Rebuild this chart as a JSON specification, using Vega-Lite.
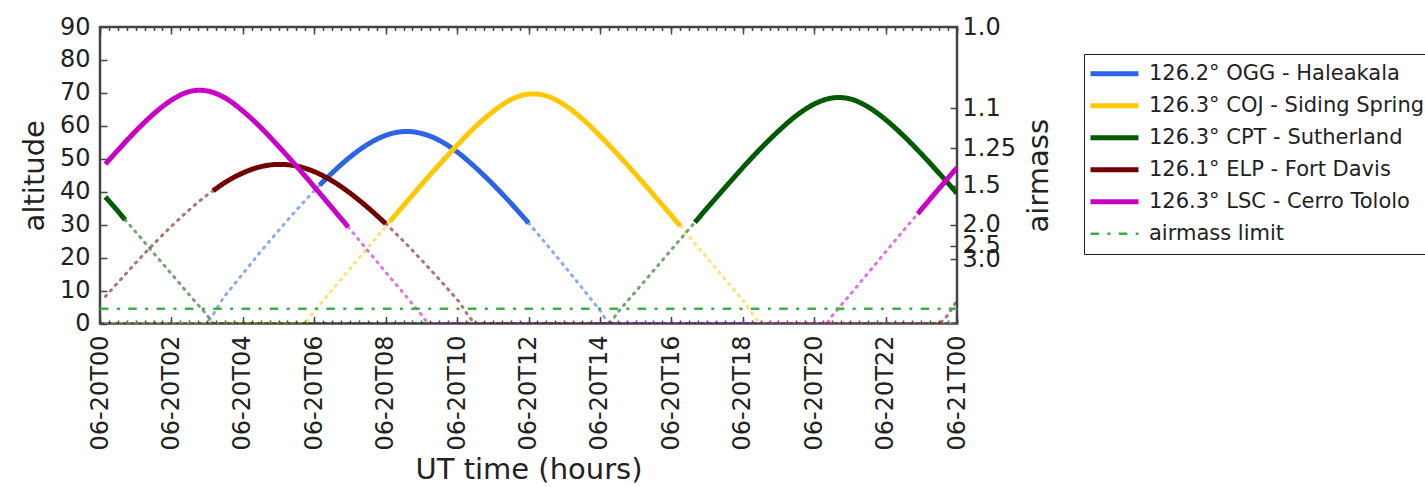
{
  "$schema": "https://vega.github.io/schema/vega-lite/v6.json",
  "width": 857,
  "height": 296.5,
  "autosize": {"type": "none"},
  "padding": {"left": 100, "top": 27, "right": 468, "bottom": 163.5},
  "background": "white",
  "config": {
    "font": "DejaVu Sans",
    "view": {"stroke": "#444", "strokeWidth": 2.5},
    "axis": {"grid": false, "domain": false, "labelFontSize": 24, "titleFontSize": 29, "titleFontWeight": "normal", "labelColor": "#222", "titleColor": "#222", "tickColor": "#444", "tickWidth": 1.5, "labelOverlap": false, "labelFlush": false, "labelBound": false},
    "legend": {"labelFontSize": 21, "labelColor": "#222", "labelFont": "DejaVu Sans"}
  },
  "datasets": {
    "curves": [
      {"site":"OGG","seg":"OGG1","obs":false,"h":0.15,"alt":0},
      {"site":"OGG","seg":"OGG1","obs":false,"h":2.89,"alt":0},
      {"site":"OGG","seg":"OGG1","obs":false,"h":3.5,"alt":8.4},
      {"site":"OGG","seg":"OGG1","obs":false,"h":4,"alt":15.1},
      {"site":"OGG","seg":"OGG1","obs":false,"h":4.5,"alt":21.8},
      {"site":"OGG","seg":"OGG1","obs":false,"h":5,"alt":28.2},
      {"site":"OGG","seg":"OGG1","obs":false,"h":5.5,"alt":34.4},
      {"site":"OGG","seg":"OGG1","obs":false,"h":6,"alt":40.3},
      {"site":"OGG","seg":"OGG1","obs":false,"h":6.15,"alt":42},
      {"site":"OGG","seg":"OGG2","obs":true,"h":6.15,"alt":42},
      {"site":"OGG","seg":"OGG2","obs":true,"h":6.5,"alt":45.7},
      {"site":"OGG","seg":"OGG2","obs":true,"h":7,"alt":50.5},
      {"site":"OGG","seg":"OGG2","obs":true,"h":7.5,"alt":54.4},
      {"site":"OGG","seg":"OGG2","obs":true,"h":8,"alt":57.1},
      {"site":"OGG","seg":"OGG2","obs":true,"h":8.3,"alt":58},
      {"site":"OGG","seg":"OGG2","obs":true,"h":8.59,"alt":58.3},
      {"site":"OGG","seg":"OGG2","obs":true,"h":9,"alt":57.7},
      {"site":"OGG","seg":"OGG2","obs":true,"h":9.5,"alt":55.6},
      {"site":"OGG","seg":"OGG2","obs":true,"h":10,"alt":52.1},
      {"site":"OGG","seg":"OGG2","obs":true,"h":10.5,"alt":47.5},
      {"site":"OGG","seg":"OGG2","obs":true,"h":11,"alt":42.3},
      {"site":"OGG","seg":"OGG2","obs":true,"h":11.5,"alt":36.6},
      {"site":"OGG","seg":"OGG2","obs":true,"h":12,"alt":30.5},
      {"site":"OGG","seg":"OGG3","obs":false,"h":12,"alt":30.5},
      {"site":"OGG","seg":"OGG3","obs":false,"h":12.5,"alt":24.1},
      {"site":"OGG","seg":"OGG3","obs":false,"h":13,"alt":17.5},
      {"site":"OGG","seg":"OGG3","obs":false,"h":13.5,"alt":10.8},
      {"site":"OGG","seg":"OGG3","obs":false,"h":14,"alt":4},
      {"site":"OGG","seg":"OGG3","obs":false,"h":14.29,"alt":0},
      {"site":"OGG","seg":"OGG3","obs":false,"h":24,"alt":0},

      {"site":"COJ","seg":"COJ1","obs":false,"h":0.15,"alt":0},
      {"site":"COJ","seg":"COJ1","obs":false,"h":5.7,"alt":0},
      {"site":"COJ","seg":"COJ1","obs":false,"h":6,"alt":3.8},
      {"site":"COJ","seg":"COJ1","obs":false,"h":6.5,"alt":10.2},
      {"site":"COJ","seg":"COJ1","obs":false,"h":7,"alt":16.6},
      {"site":"COJ","seg":"COJ1","obs":false,"h":7.5,"alt":23},
      {"site":"COJ","seg":"COJ1","obs":false,"h":8,"alt":29.4},
      {"site":"COJ","seg":"COJ1","obs":false,"h":8.12,"alt":31},
      {"site":"COJ","seg":"COJ2","obs":true,"h":8.12,"alt":31},
      {"site":"COJ","seg":"COJ2","obs":true,"h":8.5,"alt":35.8},
      {"site":"COJ","seg":"COJ2","obs":true,"h":9,"alt":42.1},
      {"site":"COJ","seg":"COJ2","obs":true,"h":9.5,"alt":48.2},
      {"site":"COJ","seg":"COJ2","obs":true,"h":10,"alt":54.1},
      {"site":"COJ","seg":"COJ2","obs":true,"h":10.5,"alt":59.6},
      {"site":"COJ","seg":"COJ2","obs":true,"h":11,"alt":64.3},
      {"site":"COJ","seg":"COJ2","obs":true,"h":11.5,"alt":67.9},
      {"site":"COJ","seg":"COJ2","obs":true,"h":11.8,"alt":69.2},
      {"site":"COJ","seg":"COJ2","obs":true,"h":12.13,"alt":69.7},
      {"site":"COJ","seg":"COJ2","obs":true,"h":12.5,"alt":69.1},
      {"site":"COJ","seg":"COJ2","obs":true,"h":13,"alt":66.4},
      {"site":"COJ","seg":"COJ2","obs":true,"h":13.5,"alt":62.2},
      {"site":"COJ","seg":"COJ2","obs":true,"h":14,"alt":57},
      {"site":"COJ","seg":"COJ2","obs":true,"h":14.5,"alt":51.3},
      {"site":"COJ","seg":"COJ2","obs":true,"h":15,"alt":45.3},
      {"site":"COJ","seg":"COJ2","obs":true,"h":15.5,"alt":39.1},
      {"site":"COJ","seg":"COJ2","obs":true,"h":16,"alt":32.8},
      {"site":"COJ","seg":"COJ2","obs":true,"h":16.25,"alt":29.6},
      {"site":"COJ","seg":"COJ3","obs":false,"h":16.25,"alt":29.6},
      {"site":"COJ","seg":"COJ3","obs":false,"h":16.5,"alt":26.4},
      {"site":"COJ","seg":"COJ3","obs":false,"h":17,"alt":19.9},
      {"site":"COJ","seg":"COJ3","obs":false,"h":17.5,"alt":13.5},
      {"site":"COJ","seg":"COJ3","obs":false,"h":18,"alt":7.1},
      {"site":"COJ","seg":"COJ3","obs":false,"h":18.57,"alt":0},
      {"site":"COJ","seg":"COJ3","obs":false,"h":24,"alt":0},

      {"site":"CPT","seg":"CPT1","obs":true,"h":0.15,"alt":38.4},
      {"site":"CPT","seg":"CPT1","obs":true,"h":0.5,"alt":34.1},
      {"site":"CPT","seg":"CPT1","obs":true,"h":0.7,"alt":31.5},
      {"site":"CPT","seg":"CPT2","obs":false,"h":0.7,"alt":31.5},
      {"site":"CPT","seg":"CPT2","obs":false,"h":1,"alt":27.8},
      {"site":"CPT","seg":"CPT2","obs":false,"h":1.5,"alt":21.4},
      {"site":"CPT","seg":"CPT2","obs":false,"h":2,"alt":15.1},
      {"site":"CPT","seg":"CPT2","obs":false,"h":2.5,"alt":8.7},
      {"site":"CPT","seg":"CPT2","obs":false,"h":3,"alt":2.5},
      {"site":"CPT","seg":"CPT2","obs":false,"h":3.2,"alt":0},
      {"site":"CPT","seg":"CPT2","obs":false,"h":14.23,"alt":0},
      {"site":"CPT","seg":"CPT2","obs":false,"h":14.5,"alt":3.4},
      {"site":"CPT","seg":"CPT2","obs":false,"h":15,"alt":9.7},
      {"site":"CPT","seg":"CPT2","obs":false,"h":15.5,"alt":16},
      {"site":"CPT","seg":"CPT2","obs":false,"h":16,"alt":22.4},
      {"site":"CPT","seg":"CPT2","obs":false,"h":16.5,"alt":28.7},
      {"site":"CPT","seg":"CPT2","obs":false,"h":16.66,"alt":30.7},
      {"site":"CPT","seg":"CPT3","obs":true,"h":16.66,"alt":30.7},
      {"site":"CPT","seg":"CPT3","obs":true,"h":17,"alt":35},
      {"site":"CPT","seg":"CPT3","obs":true,"h":17.5,"alt":41.2},
      {"site":"CPT","seg":"CPT3","obs":true,"h":18,"alt":47.3},
      {"site":"CPT","seg":"CPT3","obs":true,"h":18.5,"alt":53.1},
      {"site":"CPT","seg":"CPT3","obs":true,"h":19,"alt":58.4},
      {"site":"CPT","seg":"CPT3","obs":true,"h":19.5,"alt":63.1},
      {"site":"CPT","seg":"CPT3","obs":true,"h":20,"alt":66.6},
      {"site":"CPT","seg":"CPT3","obs":true,"h":20.35,"alt":68.1},
      {"site":"CPT","seg":"CPT3","obs":true,"h":20.68,"alt":68.6},
      {"site":"CPT","seg":"CPT3","obs":true,"h":21,"alt":68.2},
      {"site":"CPT","seg":"CPT3","obs":true,"h":21.5,"alt":65.8},
      {"site":"CPT","seg":"CPT3","obs":true,"h":22,"alt":61.9},
      {"site":"CPT","seg":"CPT3","obs":true,"h":22.5,"alt":57},
      {"site":"CPT","seg":"CPT3","obs":true,"h":23,"alt":51.5},
      {"site":"CPT","seg":"CPT3","obs":true,"h":23.5,"alt":45.6},
      {"site":"CPT","seg":"CPT3","obs":true,"h":24,"alt":39.5},

      {"site":"ELP","seg":"ELP1","obs":false,"h":0.15,"alt":8.2},
      {"site":"ELP","seg":"ELP1","obs":false,"h":0.5,"alt":12.4},
      {"site":"ELP","seg":"ELP1","obs":false,"h":1,"alt":18.4},
      {"site":"ELP","seg":"ELP1","obs":false,"h":1.5,"alt":24.1},
      {"site":"ELP","seg":"ELP1","obs":false,"h":2,"alt":29.5},
      {"site":"ELP","seg":"ELP1","obs":false,"h":2.5,"alt":34.5},
      {"site":"ELP","seg":"ELP1","obs":false,"h":3,"alt":39},
      {"site":"ELP","seg":"ELP1","obs":false,"h":3.17,"alt":40.3},
      {"site":"ELP","seg":"ELP2","obs":true,"h":3.17,"alt":40.3},
      {"site":"ELP","seg":"ELP2","obs":true,"h":3.5,"alt":42.8},
      {"site":"ELP","seg":"ELP2","obs":true,"h":4,"alt":45.7},
      {"site":"ELP","seg":"ELP2","obs":true,"h":4.5,"alt":47.6},
      {"site":"ELP","seg":"ELP2","obs":true,"h":5.04,"alt":48.3},
      {"site":"ELP","seg":"ELP2","obs":true,"h":5.5,"alt":47.8},
      {"site":"ELP","seg":"ELP2","obs":true,"h":6,"alt":46.1},
      {"site":"ELP","seg":"ELP2","obs":true,"h":6.5,"alt":43.3},
      {"site":"ELP","seg":"ELP2","obs":true,"h":7,"alt":39.6},
      {"site":"ELP","seg":"ELP2","obs":true,"h":7.5,"alt":35.2},
      {"site":"ELP","seg":"ELP2","obs":true,"h":8,"alt":30.3},
      {"site":"ELP","seg":"ELP3","obs":false,"h":8,"alt":30.3},
      {"site":"ELP","seg":"ELP3","obs":false,"h":8.5,"alt":25},
      {"site":"ELP","seg":"ELP3","obs":false,"h":9,"alt":19.3},
      {"site":"ELP","seg":"ELP3","obs":false,"h":9.5,"alt":13.4},
      {"site":"ELP","seg":"ELP3","obs":false,"h":10,"alt":7.3},
      {"site":"ELP","seg":"ELP3","obs":false,"h":10.58,"alt":0},
      {"site":"ELP","seg":"ELP3","obs":false,"h":23.43,"alt":0},
      {"site":"ELP","seg":"ELP3","obs":false,"h":24,"alt":7.1},

      {"site":"LSC","seg":"LSC1","obs":true,"h":0.15,"alt":48.4},
      {"site":"LSC","seg":"LSC1","obs":true,"h":0.5,"alt":52.6},
      {"site":"LSC","seg":"LSC1","obs":true,"h":1,"alt":58.4},
      {"site":"LSC","seg":"LSC1","obs":true,"h":1.5,"alt":63.6},
      {"site":"LSC","seg":"LSC1","obs":true,"h":2,"alt":67.8},
      {"site":"LSC","seg":"LSC1","obs":true,"h":2.5,"alt":70.4},
      {"site":"LSC","seg":"LSC1","obs":true,"h":2.8,"alt":70.8},
      {"site":"LSC","seg":"LSC1","obs":true,"h":3,"alt":70.6},
      {"site":"LSC","seg":"LSC1","obs":true,"h":3.5,"alt":68.5},
      {"site":"LSC","seg":"LSC1","obs":true,"h":4,"alt":64.5},
      {"site":"LSC","seg":"LSC1","obs":true,"h":4.5,"alt":59.5},
      {"site":"LSC","seg":"LSC1","obs":true,"h":5,"alt":53.8},
      {"site":"LSC","seg":"LSC1","obs":true,"h":5.5,"alt":47.8},
      {"site":"LSC","seg":"LSC1","obs":true,"h":6,"alt":41.5},
      {"site":"LSC","seg":"LSC1","obs":true,"h":6.5,"alt":35.1},
      {"site":"LSC","seg":"LSC1","obs":true,"h":6.95,"alt":29.3},
      {"site":"LSC","seg":"LSC2","obs":false,"h":6.95,"alt":29.3},
      {"site":"LSC","seg":"LSC2","obs":false,"h":7.5,"alt":22.1},
      {"site":"LSC","seg":"LSC2","obs":false,"h":8,"alt":15.6},
      {"site":"LSC","seg":"LSC2","obs":false,"h":8.5,"alt":9.2},
      {"site":"LSC","seg":"LSC2","obs":false,"h":9,"alt":2.7},
      {"site":"LSC","seg":"LSC2","obs":false,"h":9.23,"alt":0},
      {"site":"LSC","seg":"LSC2","obs":false,"h":20.32,"alt":0},
      {"site":"LSC","seg":"LSC2","obs":false,"h":20.5,"alt":2.3},
      {"site":"LSC","seg":"LSC2","obs":false,"h":21,"alt":8.7},
      {"site":"LSC","seg":"LSC2","obs":false,"h":21.5,"alt":15.2},
      {"site":"LSC","seg":"LSC2","obs":false,"h":22,"alt":21.7},
      {"site":"LSC","seg":"LSC2","obs":false,"h":22.5,"alt":28.2},
      {"site":"LSC","seg":"LSC2","obs":false,"h":22.9,"alt":33.3},
      {"site":"LSC","seg":"LSC3","obs":true,"h":22.9,"alt":33.3},
      {"site":"LSC","seg":"LSC3","obs":true,"h":23.5,"alt":41},
      {"site":"LSC","seg":"LSC3","obs":true,"h":24,"alt":47.3},

      {"site":"limit","seg":"limit","obs":true,"h":0,"alt":4.5},
      {"site":"limit","seg":"limit","obs":true,"h":24,"alt":4.5}
    ]
  },
  "layer": [
    {
      "data": {"name": "curves"},
      "transform": [{"filter": "!datum.obs"}],
      "mark": {"type": "line", "interpolate": "monotone", "strokeWidth": 3, "strokeDash": [1.5, 6], "strokeCap": "round", "opacity": 0.55, "clip": true},
      "encoding": {
        "x": {"field": "h", "type": "quantitative", "scale": {"domain": [0, 24], "nice": false, "zero": false},
          "axis": {"orient": "bottom", "values": [0,2,4,6,8,10,12,14,16,18,20,22,24],
            "labelExpr": "datum.value == 24 ? '06-21T00' : '06-20T' + (datum.value < 10 ? '0' : '') + datum.value",
            "labelAngle": 270, "labelAlign": "right", "labelBaseline": "middle", "labelPadding": 18.5, "tickSize": -7,
            "title": "UT time (hours)", "titleX": 428.5, "titleY": 154.5, "titleAlign": "center", "titleBaseline": "alphabetic"}},
        "y": {"field": "alt", "type": "quantitative", "scale": {"domain": [0, 90], "nice": false, "zero": false},
          "axis": {"orient": "left", "values": [0,10,20,30,40,50,60,70,80,90], "tickSize": -7, "labelPadding": 17,
            "title": "altitude", "titleAngle": 270, "titleX": -57, "titleY": 148.25, "titleAlign": "center", "titleBaseline": "alphabetic"}},
        "stroke": {"field": "site", "type": "nominal",
          "scale": {"domain": ["OGG","COJ","CPT","ELP","LSC"], "range": ["#2d64e6","#ffc800","#005a00","#730000","#c800c8"]},
          "legend": null},
        "detail": {"field": "seg"}
      }
    },
    {
      "data": {"name": "curves"},
      "transform": [{"filter": "datum.obs"}],
      "mark": {"type": "line", "interpolate": "monotone", "clip": true},
      "encoding": {
        "x": {"field": "h", "type": "quantitative",
          "axis": {"orient": "top", "values": [0,2,4,6,8,10,12,14,16,18,20,22,24], "labels": false, "tickSize": -7, "title": null}},
        "y": {"field": "alt", "type": "quantitative",
          "axis": {"orient": "right", "values": [90,65.38,53.13,41.81,30,23.58,19.47],
            "labelExpr": "datum.value > 80 ? '1.0' : datum.value > 60 ? '1.1' : datum.value > 50 ? '1.25' : datum.value > 40 ? '1.5' : datum.value > 25 ? '2.0' : datum.value > 21 ? '2.5' : '3.0'",
            "tickSize": -7, "labelPadding": 12,
            "title": "airmass", "titleAngle": 270, "titleX": 90, "titleY": 148.25, "titleAlign": "center", "titleBaseline": "alphabetic"}},
        "color": {"field": "site", "type": "nominal",
          "scale": {"domain": ["OGG","COJ","CPT","ELP","LSC","limit"], "range": ["#2d64e6","#ffc800","#005a00","#730000","#c800c8","#3cb043"]},
          "legend": {"title": null, "orient": "none", "legendX": 984, "legendY": 27, "direction": "vertical", "symbolType": "stroke", "symbolSize": 2304, "symbolOpacity": 1, "clipHeight": 31.5, "rowPadding": 0, "labelFontSize": 21, "labelOffset": 8, "symbolOffset": 0, "padding": 4, "strokeColor": "#222", "fillColor": "white", "labelLimit": 600,
            "labelExpr": "datum.label == 'OGG' ? '126.2° OGG - Haleakala' : datum.label == 'COJ' ? '126.3° COJ - Siding Spring' : datum.label == 'CPT' ? '126.3° CPT - Sutherland' : datum.label == 'ELP' ? '126.1° ELP - Fort Davis' : datum.label == 'LSC' ? '126.3° LSC - Cerro Tololo' : 'airmass limit'"}},
        "strokeDash": {"field": "site", "type": "nominal",
          "scale": {"domain": ["OGG","COJ","CPT","ELP","LSC","limit"], "range": [[1,0],[1,0],[1,0],[1,0],[1,0],[8.5,8.4,3,8.4]]},
          "legend": {"title": null, "orient": "none", "legendX": 984, "legendY": 27, "direction": "vertical", "symbolType": "stroke", "symbolSize": 2304, "symbolOpacity": 1, "clipHeight": 31.5, "rowPadding": 0, "labelFontSize": 21, "labelOffset": 8, "symbolOffset": 0, "padding": 4, "strokeColor": "#222", "fillColor": "white", "labelLimit": 600,
            "labelExpr": "datum.label == 'OGG' ? '126.2° OGG - Haleakala' : datum.label == 'COJ' ? '126.3° COJ - Siding Spring' : datum.label == 'CPT' ? '126.3° CPT - Sutherland' : datum.label == 'ELP' ? '126.1° ELP - Fort Davis' : datum.label == 'LSC' ? '126.3° LSC - Cerro Tololo' : 'airmass limit'"}},
        "strokeWidth": {"field": "site", "type": "nominal",
          "scale": {"type": "ordinal", "domain": ["OGG","COJ","CPT","ELP","LSC","limit"], "range": [5,5,5,5,5,2.5]},
          "legend": {"title": null, "orient": "none", "legendX": 984, "legendY": 27, "direction": "vertical", "symbolType": "stroke", "symbolSize": 2304, "symbolOpacity": 1, "clipHeight": 31.5, "rowPadding": 0, "labelFontSize": 21, "labelOffset": 8, "symbolOffset": 0, "padding": 4, "strokeColor": "#222", "fillColor": "white", "labelLimit": 600,
            "labelExpr": "datum.label == 'OGG' ? '126.2° OGG - Haleakala' : datum.label == 'COJ' ? '126.3° COJ - Siding Spring' : datum.label == 'CPT' ? '126.3° CPT - Sutherland' : datum.label == 'ELP' ? '126.1° ELP - Fort Davis' : datum.label == 'LSC' ? '126.3° LSC - Cerro Tololo' : 'airmass limit'"}},
        "detail": {"field": "seg"}
      }
    },
    {
      "data": {"name": "curves"},
      "transform": [{"filter": "datum.site == 'limit'"}],
      "mark": {"type": "point", "opacity": 0},
      "encoding": {
        "x": {"field": "h", "type": "quantitative",
          "axis": {"orient": "bottom", "labels": false, "tickSize": -3.5, "title": null,
            "values": [0,0.25,0.5,0.75,1,1.25,1.5,1.75,2,2.25,2.5,2.75,3,3.25,3.5,3.75,4,4.25,4.5,4.75,5,5.25,5.5,5.75,6,6.25,6.5,6.75,7,7.25,7.5,7.75,8,8.25,8.5,8.75,9,9.25,9.5,9.75,10,10.25,10.5,10.75,11,11.25,11.5,11.75,12,12.25,12.5,12.75,13,13.25,13.5,13.75,14,14.25,14.5,14.75,15,15.25,15.5,15.75,16,16.25,16.5,16.75,17,17.25,17.5,17.75,18,18.25,18.5,18.75,19,19.25,19.5,19.75,20,20.25,20.5,20.75,21,21.25,21.5,21.75,22,22.25,22.5,22.75,23,23.25,23.5,23.75,24]}},
        "y": {"field": "alt", "type": "quantitative", "axis": null}
      }
    },
    {
      "data": {"name": "curves"},
      "transform": [{"filter": "datum.site == 'limit'"}],
      "mark": {"type": "point", "opacity": 0},
      "encoding": {
        "x": {"field": "h", "type": "quantitative",
          "axis": {"orient": "top", "labels": false, "tickSize": -3.5, "title": null,
            "values": [0,0.25,0.5,0.75,1,1.25,1.5,1.75,2,2.25,2.5,2.75,3,3.25,3.5,3.75,4,4.25,4.5,4.75,5,5.25,5.5,5.75,6,6.25,6.5,6.75,7,7.25,7.5,7.75,8,8.25,8.5,8.75,9,9.25,9.5,9.75,10,10.25,10.5,10.75,11,11.25,11.5,11.75,12,12.25,12.5,12.75,13,13.25,13.5,13.75,14,14.25,14.5,14.75,15,15.25,15.5,15.75,16,16.25,16.5,16.75,17,17.25,17.5,17.75,18,18.25,18.5,18.75,19,19.25,19.5,19.75,20,20.25,20.5,20.75,21,21.25,21.5,21.75,22,22.25,22.5,22.75,23,23.25,23.5,23.75,24]}},
        "y": {"field": "alt", "type": "quantitative", "axis": null}
      }
    }
  ],
  "resolve": {"axis": {"x": "independent", "y": "independent"}}
}
